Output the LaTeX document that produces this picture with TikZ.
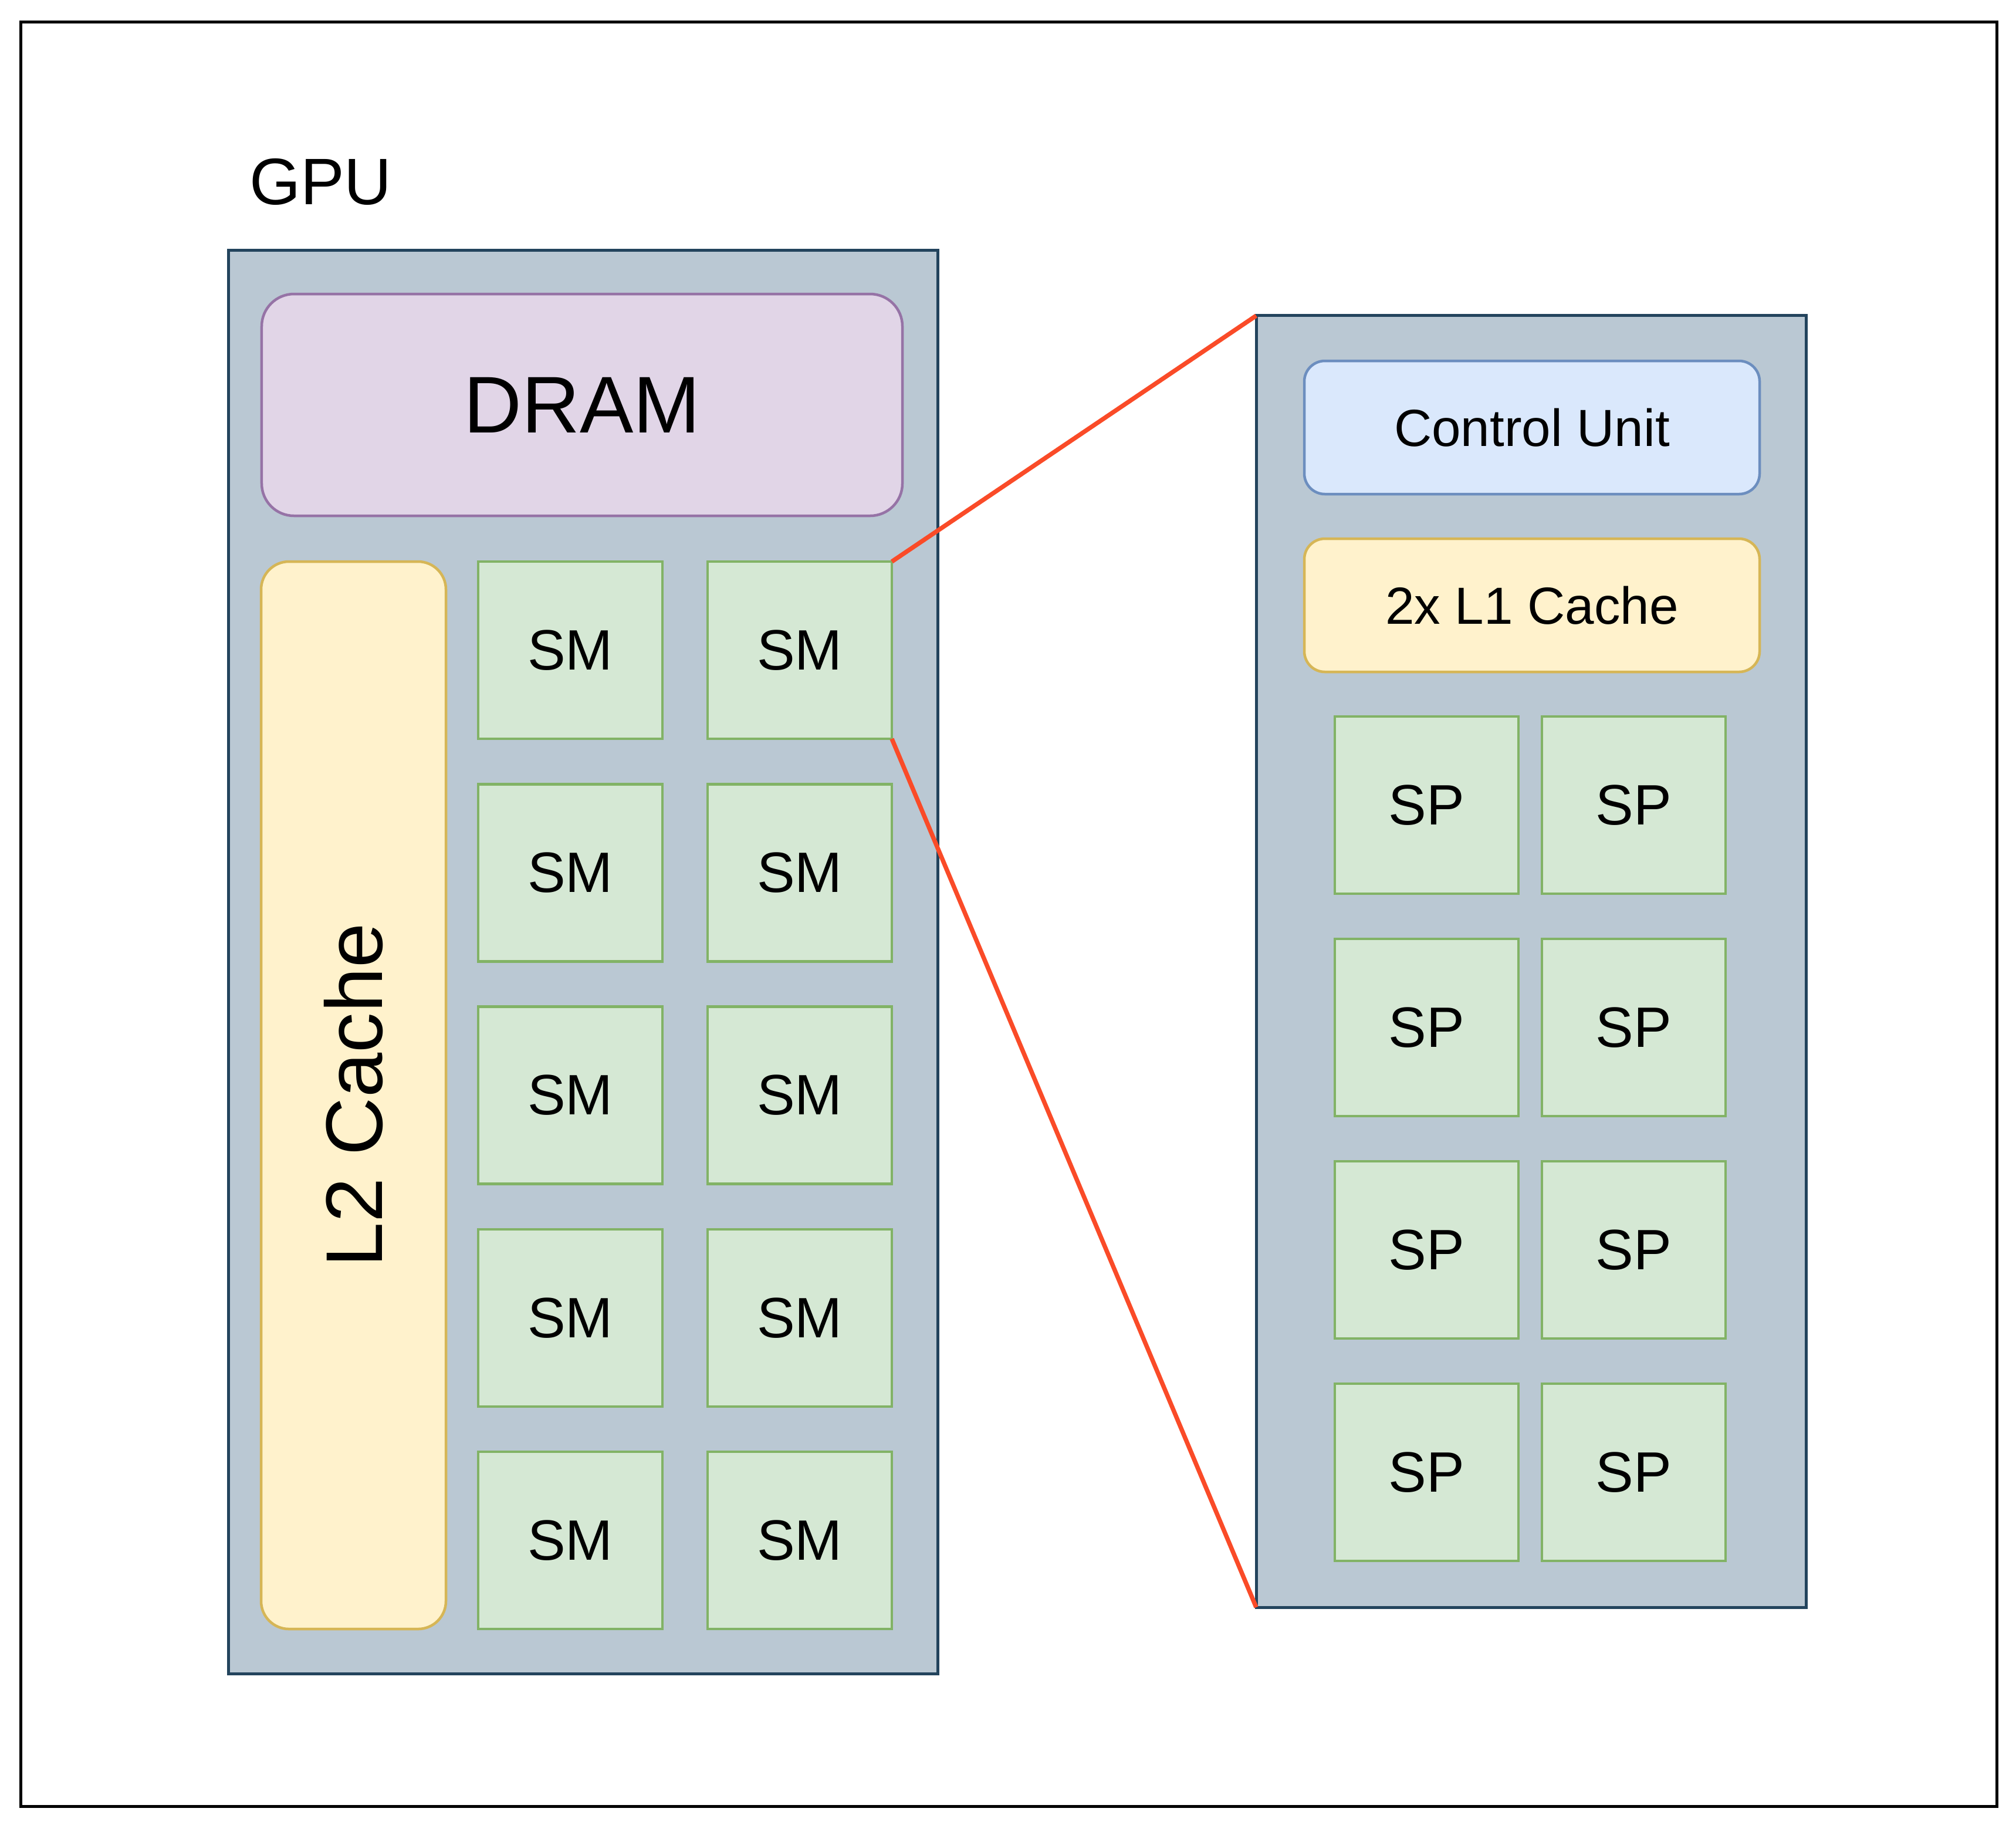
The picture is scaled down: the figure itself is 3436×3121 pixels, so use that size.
\documentclass[tikz,border=0pt]{standalone}
\usepackage{fontspec}
\setmainfont{Liberation Sans}
\definecolor{gpufill}{HTML}{BAC8D3}
\definecolor{gpuline}{HTML}{23445D}
\definecolor{dramfill}{HTML}{E1D5E7}
\definecolor{dramline}{HTML}{9673A6}
\definecolor{cachefill}{HTML}{FFF2CC}
\definecolor{cacheline}{HTML}{D6B656}
\definecolor{smfill}{HTML}{D5E8D4}
\definecolor{smline}{HTML}{82B366}
\definecolor{cufill}{HTML}{DAE8FC}
\definecolor{culine}{HTML}{6C8EBF}
\definecolor{zoomred}{RGB}{250,75,40}
\tikzset{
  box/.style={draw, inner sep=0pt, outer sep=0pt, line width=0.9pt},
  chip/.style={box, fill=gpufill, draw=gpuline, line width=1pt},
  smbox/.style={box, fill=smfill, draw=smline, minimum width=62.8pt, minimum height=60.4pt,
     font=\fontsize{19.4}{23}\selectfont},
  spbox/.style={box, fill=smfill, draw=smline, minimum width=62.6pt, minimum height=60.4pt,
     font=\fontsize{19.4}{23}\selectfont},
  zoomline/.style={draw=zoomred, line width=1.5pt},
}
\begin{document}
\begin{tikzpicture}[x=0.2pt, y=-0.2pt]
\useasboundingbox (0,0) rectangle (3436,3121);
\fill[white] (0,0) rectangle (3436,3121);
\draw[line width=1pt, black] (35,37) rectangle (3403,3078);

\node[anchor=west, inner sep=0pt, font=\fontsize{22.4}{26}\selectfont] (gpulabel) at (424,310) {GPU};

% GPU block
\node[chip, minimum width=241.6pt, minimum height=485pt] (gpu) at (994,1639.5) {};
\node[box, fill=dramfill, draw=dramline, rounded corners=11pt, minimum width=218.4pt, minimum height=75.6pt,
  font=\fontsize{27.4}{32}\selectfont] (dram) at (992,690) {DRAM};
\node[box, fill=cachefill, draw=cacheline, rounded corners=9.5pt, minimum width=63pt, minimum height=363.8pt] (l2) at (602.5,1866.5) {};
\node[rotate=90, inner sep=0pt, font=\fontsize{27.4}{32}\selectfont] (l2text) at (602.5,1866.5) {L2 Cache};

\foreach \r/\y in {1/1108,2/1487.25,3/1866.5,4/2245.75,5/2625}{
  \node[smbox] (sm\r a) at (972,\y) {SM};
  \node[smbox] (sm\r b) at (1363,\y) {SM};
}

% SM detail block
\node[chip, minimum width=187.4pt, minimum height=440.2pt] (smd) at (2609.5,1638.5) {};
\node[box, fill=cufill, draw=culine, rounded corners=7pt, minimum width=155.2pt, minimum height=45.4pt,
  font=\fontsize{17.8}{22}\selectfont] (cu) at (2611,728.5) {Control Unit};
\node[box, fill=cachefill, draw=cacheline, rounded corners=7pt, minimum width=155.2pt, minimum height=45.4pt,
  font=\fontsize{17.8}{22}\selectfont] (l1) at (2611,1031.5) {2x L1 Cache};

\foreach \r/\y in {1/1372,2/1751,3/2130,4/2509}{
  \node[spbox] (sp\r a) at (2431.5,\y) {SP};
  \node[spbox] (sp\r b) at (2784.5,\y) {SP};
}

\draw[zoomline] (sm1b.north east) -- (smd.north west);
\draw[zoomline] (sm1b.south east) -- (smd.south west);
\end{tikzpicture}
\end{document}
